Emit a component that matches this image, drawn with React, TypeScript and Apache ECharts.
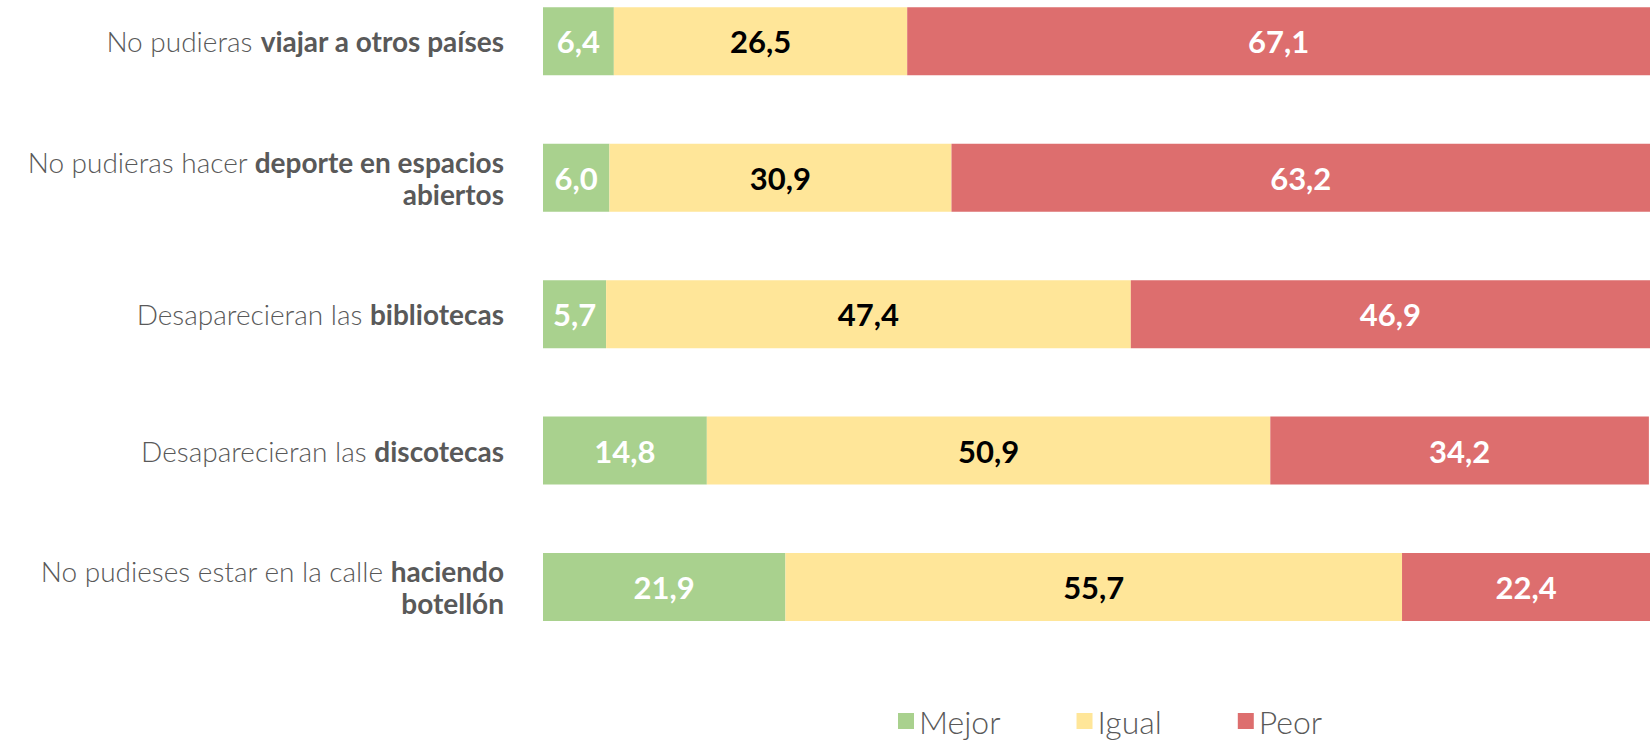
import React, { useEffect, useRef } from "react";
import * as echarts from "echarts";

const catPrefix = [
  "No pudieras ",
  "No pudieras hacer ",
  "Desaparecieran las ",
  "Desaparecieran las ",
  "No pudieses estar en la calle ",
];
const catBold = [
  "viajar a otros países",
  "deporte en espacios\nabiertos",
  "bibliotecas",
  "discotecas",
  "haciendo\nbotellón",
];
const categories = catPrefix.map((p, i) => p + catBold[i]);

const seriesNames = ["Mejor", "Igual", "Peor"];
const mejor = [6.4, 6.0, 5.7, 14.8, 21.9];
const igual = [26.5, 30.9, 47.4, 50.9, 55.7];
const peor = [67.1, 63.2, 46.9, 34.2, 22.4];
const colors = ["#A9D18E", "#FFE699", "#DD6E6E"];
const labelColors = ["#FFFFFF", "#000000", "#FFFFFF"];

const FONT = "Lato";

export default function App() {
  const ref = useRef<HTMLDivElement>(null);
  useEffect(() => {
    document.body.style.margin = "0";
    if (!ref.current) return;
    const chart = echarts.init(ref.current, null, { renderer: "svg" });
    const values = [mejor, igual, peor];
    chart.setOption({
      animation: false,
      backgroundColor: "#FFFFFF",
      grid: { left: 543, right: 0, top: 0, bottom: 89.75, containLabel: false },
      xAxis: {
        type: "value",
        min: 0,
        max: 100,
        show: false,
      },
      yAxis: {
        type: "category",
        inverse: true,
        data: categories,
        axisLine: { show: false },
        axisTick: { show: false },
        splitLine: { show: false },
        axisLabel: {
          margin: 39,
          align: "right",
          formatter: (_v: string, idx: number) => {
            const bold = catBold[idx]
              .split("\n")
              .map((s) => `{b|${s}}`)
              .join("\n");
            return `{l|${catPrefix[idx]}}${bold}`;
          },
          rich: {
            l: { fontFamily: FONT, fontWeight: 300, fontSize: 28, color: "#595959", lineHeight: 32 },
            b: { fontFamily: FONT, fontWeight: "bold", fontSize: 28, color: "#595959", lineHeight: 32 },
          },
        },
      },
      legend: {
        bottom: 3,
        left: 893,
        itemWidth: 16,
        itemHeight: 16,
        itemGap: 76,
        icon: "rect",
        textStyle: { fontFamily: FONT, fontWeight: 300, fontSize: 32, color: "#595959" },
        data: seriesNames,
      },
      series: seriesNames.map((name, si) => ({
        name,
        type: "bar",
        stack: "total",
        barWidth: 68,
        data: values[si],
        itemStyle: { color: colors[si] },
        label: {
          show: true,
          position: "inside",
          color: labelColors[si],
          fontFamily: FONT,
          fontWeight: "bold",
          fontSize: 31,
          formatter: (p: any) => Number(p.value).toFixed(1).replace(".", ","),
        },
      })),
    });
    return () => chart.dispose();
  }, []);
  return (
    <div style={{ width: 1650, height: 745, overflow: "hidden", position: "relative" }}>
      <div ref={ref} style={{ position: "absolute", left: 0, top: -27.25, width: 1650, height: 772.25 }} />
    </div>
  );
}
